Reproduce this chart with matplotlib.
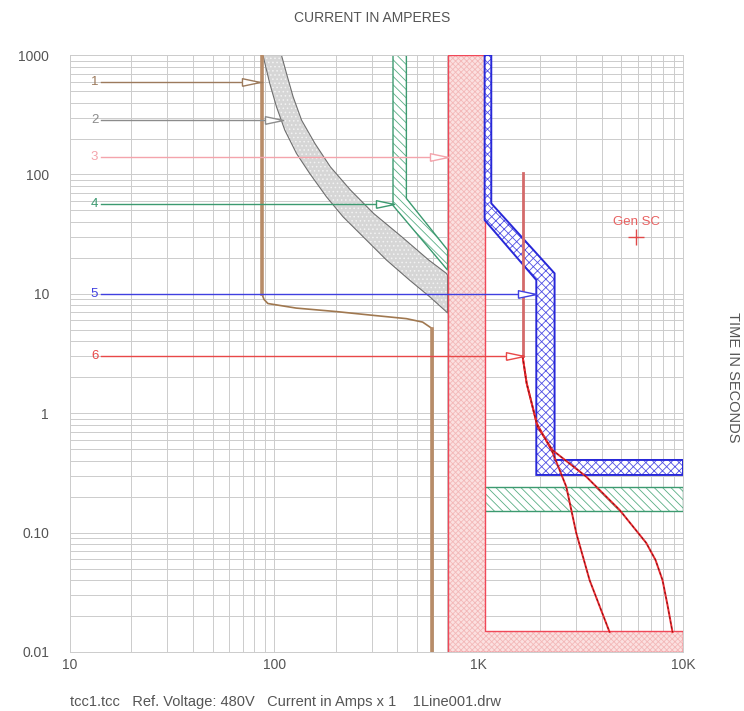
import matplotlib
matplotlib.use("Agg")
import matplotlib.pyplot as plt
from matplotlib.ticker import FixedLocator, LogLocator, NullFormatter

plt.rcParams['font.family'] = ['Liberation Sans', 'DejaVu Sans']
plt.rcParams['hatch.linewidth'] = 0.6

# 1 - brown relay curve
c1_amps = [87, 87, 89, 93, 128, 202, 293, 443, 532, 594, 594]
c1_secs = [1000, 10, 9.0, 8.3, 7.6, 7.1, 6.65, 6.2, 5.8, 5.1, 0.01]

# 2 - gray band (min / max edges)
c2_lo_amps = [88, 95, 102.5, 112.6, 128.4, 149, 180, 217, 272, 354, 460, 576, 695, 705]
c2_lo_secs = [1000, 579, 369, 235, 150, 102, 65, 44.2, 30.1, 19.2, 13.0, 9.46, 7.08, 6.9]
c2_hi_amps = [108.4, 114.7, 123.6, 136, 158, 188, 236, 306, 420, 570, 695, 705]
c2_hi_secs = [1000, 703, 448, 285, 182, 116, 74, 47.2, 30.1, 19.2, 14.85, 14.3]

# 3 - pink band
c3_amps = [705, 705, 10000, 10000, 1080, 1080]
c3_secs = [1000, 0.01, 0.01, 0.015, 0.015, 1000]

# 4 - green breaker band
c4_lo_amps = [381, 381, 705]
c4_lo_secs = [1000, 55, 15.8]
c4_hi_amps = [443, 443, 705]
c4_hi_secs = [1000, 63, 23.3]
c4_st_amps = [900, 10000]
c4_st_secs = [0.152, 0.24]

# 5 - blue breaker band
c5_lo_amps = [1070, 1070, 1915, 1915, 10000]
c5_lo_secs = [1000, 41.5, 13.05, 0.304, 0.304]
c5_hi_amps = [1153, 1153, 2353, 2353, 10000]
c5_hi_secs = [1000, 57.3, 14.85, 0.406, 0.406]

# 6 - red fuse
c6_pick_amps = [1641, 1641]
c6_pick_secs = [103, 3.0]
c6_a_amps = [1641, 1717, 1921, 2301, 2685, 3005, 3491, 4371]
c6_a_secs = [3.0, 1.79, 0.83, 0.47, 0.242, 0.099, 0.040, 0.0147]
c6_b_amps = [1641, 1717, 1943, 2301, 3363, 4893, 6607, 7337, 7940, 8396, 8886]
c6_b_secs = [3.0, 1.79, 0.77, 0.49, 0.294, 0.155, 0.082, 0.059, 0.040, 0.0248, 0.0147]

# device labels
label_names = ['1', '2', '3', '4', '5', '6']
label_secs = [600, 285, 140, 57, 10, 3.0]
label_end_amps = [87, 106, 705, 381, 1915, 1641]
label_arrow_amps = [77, 100, 637, 347, 1726, 1500]
label_colors = ['#9c7a5c', '#8c8c8c', '#f4a4ac', '#3c9a70', '#4040e0', '#e84848']
label_start_amps = 14.2
label_text_amps = 13.2

gen_sc_amps = [5900]
gen_sc_secs = [30]

x_ticks = [10, 100, 1000, 10000]
x_labels = ['10', '100', '1K', '10K']
y_ticks = [0.01, 0.1, 1, 10, 100, 1000]
y_labels = ['0.01', '0.10', '1', '10', '100', '1000']

footer = 'tcc1.tcc   Ref. Voltage: 480V   Current in Amps x 1    1Line001.drw'

text_color = '#555555'
arrow_marker = [(-1, -0.42), (1, 0), (-1, 0.42), (-1, -0.42)]


def band(ax, amps, secs, face, hatch, hatch_color, edge, lw, z):
    ax.fill(amps, secs, facecolor=face, edgecolor=hatch_color, hatch=hatch, lw=0, zorder=z)
    ax.fill(amps, secs, facecolor='none', edgecolor=edge, lw=lw, zorder=z + 0.1)


fig = plt.figure(figsize=(7.44, 7.11), dpi=100)
ax = fig.add_axes([0.094, 0.083, 0.824, 0.8395])
ax.set_xscale('log')
ax.set_yscale('log')
ax.set_xlim(10, 10000)
ax.set_ylim(0.01, 1000)

ax.xaxis.set_major_locator(FixedLocator(x_ticks))
ax.xaxis.set_ticklabels(x_labels)
ax.yaxis.set_major_locator(FixedLocator(y_ticks))
ax.yaxis.set_ticklabels(y_labels)
ax.xaxis.set_minor_locator(LogLocator(base=10, subs=range(2, 10)))
ax.yaxis.set_minor_locator(LogLocator(base=10, subs=range(2, 10)))
ax.xaxis.set_minor_formatter(NullFormatter())
ax.yaxis.set_minor_formatter(NullFormatter())
ax.tick_params(which='both', length=0, labelsize=10, labelcolor=text_color)
ax.tick_params(axis='x', pad=4)
ax.tick_params(axis='y', pad=15)
ax.grid(which='both', color='#cccccc', lw=0.7)
ax.set_axisbelow(True)
for s in ax.spines.values():
    s.set_color('#cccccc')
    s.set_linewidth(0.7)

# gray band
band(ax, c2_lo_amps + c2_hi_amps[::-1], c2_lo_secs + c2_hi_secs[::-1],
     '#d6d6d6', '....', '#f2f2f2', '#6e6e6e', 0.8, 2)

# green band
band(ax, c4_lo_amps + c4_hi_amps[::-1], c4_lo_secs + c4_hi_secs[::-1],
     'white', '\\\\\\\\', '#5aae84', '#3c9a70', 1.0, 2)
band(ax, [c4_st_amps[0], c4_st_amps[1], c4_st_amps[1], c4_st_amps[0]],
     [c4_st_secs[0], c4_st_secs[0], c4_st_secs[1], c4_st_secs[1]],
     'white', '\\\\\\\\', '#5aae84', '#3c9a70', 1.0, 2)

# pink band
band(ax, c3_amps, c3_secs, '#fbe0e0', 'xxxxxx', '#f3b8b8', '#f04858', 1.0, 3)

# blue band
band(ax, c5_lo_amps + c5_hi_amps[::-1], c5_lo_secs + c5_hi_secs[::-1],
     'white', 'xxxx', '#5050e4', '#2828d8', 1.4, 4)

# brown curve
ax.plot(c1_amps, c1_secs, color='#a07850', lw=1.2, zorder=5)
ax.plot(c1_amps[:2], c1_secs[:2], color='#b88c68', lw=2.6, zorder=5)
ax.plot(c1_amps[-2:], c1_secs[-2:], color='#b88c68', lw=2.6, zorder=5)

# red fuse
ax.plot(c6_pick_amps, c6_pick_secs, color='#d46a6a', lw=2.0, zorder=6)
for a, s in [(c6_a_amps, c6_a_secs), (c6_b_amps, c6_b_secs)]:
    ax.plot(a, s, color='#ec2a30', lw=1.4, zorder=6)
    ax.plot(a, s, color='#6a1010', lw=0.6, dashes=(3, 3), zorder=6)

# label lines with open arrows
for name, t, end, arr, col in zip(label_names, label_secs, label_end_amps,
                                  label_arrow_amps, label_colors):
    ax.plot([label_start_amps, end], [t, t], color=col, lw=1.0, zorder=7)
    ax.plot([arr], [t], marker=arrow_marker, markersize=13, mfc='white',
            mec=col, mew=1.0, ls='none', zorder=7)
    ax.text(label_text_amps, t, name, color=col, fontsize=9.5, ha='center',
            va='center', zorder=7)

# generator short circuit
ax.plot(gen_sc_amps, gen_sc_secs, marker='+', markersize=11, mew=1.0,
        color='#e04848', ls='none', zorder=7)
ax.text(gen_sc_amps[0], gen_sc_secs[0] * 1.33, 'Gen SC', color='#e86060',
        fontsize=9.5, ha='center', va='center', zorder=7)

fig.text(0.5, 0.974, 'CURRENT IN AMPERES', ha='center', va='center',
         fontsize=10, color=text_color)
fig.text(0.985, 0.47, 'TIME IN SECONDS', ha='center', va='center',
         rotation=270, fontsize=10.5, color=text_color)
fig.text(0.094, 0.012, footer, ha='left', va='center', fontsize=10.5, color=text_color)

fig.savefig('out.png', dpi=100)
